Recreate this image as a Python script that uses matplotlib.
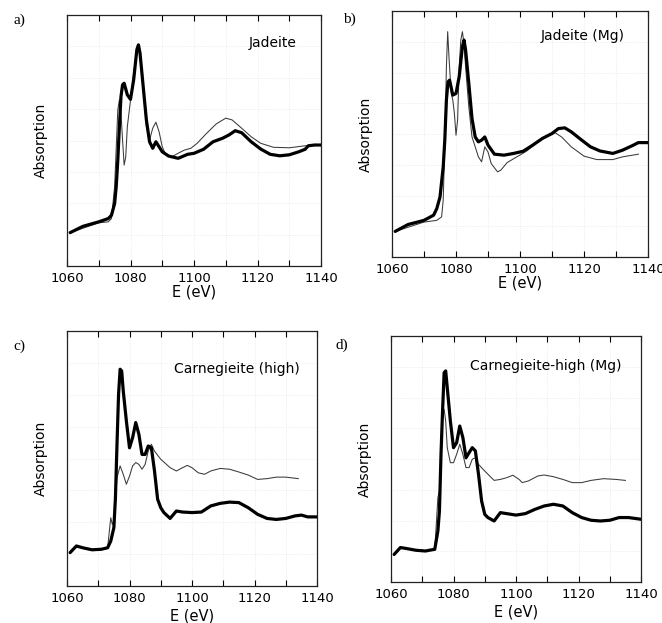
#!/usr/bin/env python3
# -*- coding: utf-8 -*-
"""
Na K-edge XANES: experiment (thick) vs calculation (thin), 4 panels
"""
import matplotlib
matplotlib.use('Agg')
import matplotlib.pyplot as plt
from matplotlib.ticker import MultipleLocator

W, H = 662, 623

# ---- a) Jadeite ----
a_exp_e = [1061, 1065, 1070, 1073, 1074, 1075, 1075.5, 1076, 1076.5, 1077, 1077.5, 1078, 1079, 1080,
           1081, 1082, 1082.5, 1083, 1084, 1085, 1086, 1087, 1088, 1089, 1090, 1092, 1095, 1098,
           1100, 1103, 1106, 1109, 1111, 1113, 1115, 1118, 1121, 1124, 1127, 1130, 1133, 1135,
           1136, 1138, 1140]
a_exp_y = [13.3, 15.8, 17.6, 18.9, 20.2, 24.9, 31.6, 42.2, 55.5, 67.5, 72.2, 72.8, 68.2, 66.4,
           74.2, 86.2, 88.1, 84.8, 71.5, 58.2, 49.5, 46.9, 49.5, 47.5, 45.5, 43.8, 42.9, 44.5,
           44.9, 46.5, 49.5, 50.9, 52.2, 53.9, 53.1, 49.5, 46.6, 44.5, 43.9, 44.3, 45.5, 46.5,
           47.9, 48.2, 48.2]
a_th_e = [1061, 1070, 1073, 1074, 1075, 1076, 1076.5, 1077, 1077.5, 1078, 1078.5, 1079, 1080,
          1081, 1082, 1082.5, 1083, 1084, 1085, 1086, 1087, 1088, 1089, 1090, 1091, 1093, 1095,
          1097, 1099, 1101, 1104, 1107, 1110, 1112, 1115, 1118, 1121, 1125, 1130, 1135, 1140]
a_th_y = [13.3, 17.2, 17.6, 18.9, 31.6, 62.2, 66.2, 60.9, 50.2, 40.2, 43.5, 55.5, 66.0,
          76.8, 86.2, 87.5, 83.5, 70.2, 55.5, 50.2, 54.9, 57.3, 53.5, 47.5, 44.6, 43.5, 44.9,
          46.2, 46.9, 48.9, 52.9, 56.6, 58.9, 58.2, 54.9, 51.5, 48.9, 47.3, 47.1, 47.9, 48.2]

# ---- b) Jadeite (Mg) ----
b_exp_e = [1061, 1065, 1070, 1073, 1074, 1075, 1076, 1076.5, 1077, 1077.5, 1078, 1079, 1080,
           1081, 1082, 1082.5, 1083, 1084, 1085, 1086, 1087, 1088, 1089, 1090, 1092, 1095, 1098,
           1101, 1104, 1107, 1110, 1112, 1114, 1116, 1119, 1122, 1125, 1129, 1132, 1135, 1137,
           1140]
b_exp_y = [10.4, 13.2, 14.9, 17.0, 19.7, 24.4, 36.6, 47.5, 63.8, 71.2, 71.9, 65.8, 66.5,
           73.3, 85.5, 88.2, 84.1, 70.6, 56.3, 48.8, 46.8, 47.5, 48.8, 45.5, 41.8, 41.4, 42.1,
           43.0, 45.5, 48.2, 50.2, 52.2, 52.5, 50.9, 47.8, 44.8, 43.1, 42.1, 43.4, 45.2, 46.5,
           46.5]
b_th_e = [1061, 1070, 1074, 1075.5, 1076, 1076.5, 1077, 1077.4, 1077.8, 1078.5, 1079, 1079.5,
          1080, 1080.5, 1081, 1081.5, 1082, 1082.5, 1083, 1084, 1085, 1086, 1087, 1088, 1089,
          1090, 1091, 1093, 1094, 1096, 1099, 1102, 1105, 1108, 1111, 1113, 1116, 1120, 1124,
          1129, 1132, 1137]
b_th_y = [10.4, 14.2, 14.9, 16.3, 23.1, 46.1, 77.3, 91.6, 81.4, 66.5, 63.8, 58.3,
          49.5, 55.6, 77.3, 88.2, 91.6, 86.8, 77.3, 61.1, 48.8, 44.8, 40.7, 38.7, 44.8,
          42.7, 38.0, 34.6, 35.3, 38.4, 40.7, 43.0, 46.1, 48.8, 50.5, 48.8, 44.8, 41.0, 39.6,
          39.6, 40.7, 41.8]

# ---- c) Carnegieite (high) ----
c_exp_e = [1061, 1063, 1065, 1068, 1071, 1073, 1074, 1075, 1075.5, 1076, 1076.5, 1077, 1077.5,
           1078, 1079, 1080, 1081, 1082, 1083, 1084, 1085, 1086, 1087, 1088, 1089, 1090, 1091,
           1093, 1095, 1097, 1100, 1103, 1106, 1109, 1112, 1115, 1118, 1121, 1124, 1127, 1130,
           1133, 1135, 1137, 1140]
c_exp_y = [13.1, 15.7, 15.0, 14.2, 14.4, 15.0, 17.6, 22.9, 34.6, 55.6, 75.2, 85.0, 84.3,
           76.5, 64.7, 54.2, 58.2, 64.1, 59.5, 51.6, 51.6, 54.9, 54.2, 45.1, 34.0, 30.7, 28.8,
           26.5, 29.4, 29.0, 28.8, 29.0, 31.4, 32.4, 32.9, 32.7, 30.7, 28.1, 26.5, 26.1, 26.5,
           27.5, 27.8, 27.1, 27.1]
c_th_e = [1073, 1074, 1074.5, 1075, 1076, 1077, 1078, 1079, 1080, 1081, 1082, 1083, 1084,
          1085, 1086, 1087, 1088, 1090, 1093, 1095, 1097, 1098.5, 1100, 1102, 1104, 1106, 1109,
          1112, 1115, 1118, 1121, 1124, 1127, 1130, 1134]
c_th_y = [15.0, 26.8, 24.2, 25.5, 42.5, 47.1, 43.8, 39.9, 43.1, 47.1, 48.4, 47.7, 45.8,
          47.7, 52.9, 55.6, 52.9, 49.7, 46.4, 45.1, 46.4, 47.3, 46.4, 44.4, 43.8, 45.1, 46.1,
          45.8, 44.7, 43.5, 41.8, 42.1, 42.7, 42.7, 42.1]

# ---- d) Carnegieite-high (Mg) ----
d_exp_e = [1061, 1063, 1065, 1068, 1071, 1074, 1075, 1075.5, 1076, 1076.5, 1077, 1077.5, 1078,
           1079, 1080, 1081, 1082, 1083, 1084, 1085, 1086, 1087, 1088, 1089, 1090, 1091, 1093,
           1095, 1097, 1100, 1103, 1106, 1109, 1112, 1115, 1118, 1121, 1124, 1127, 1130, 1133,
           1136, 1140]
d_exp_y = [11.2, 14.0, 13.6, 12.9, 12.6, 13.3, 20.7, 28.9, 51.9, 69.5, 85.1, 85.8, 79.0,
           65.4, 54.6, 56.6, 63.4, 58.7, 50.5, 52.6, 54.6, 53.3, 43.8, 32.9, 27.5, 26.2, 24.8,
           28.2, 27.8, 27.2, 27.8, 29.5, 30.9, 31.6, 30.9, 28.2, 26.2, 25.1, 24.8, 25.1, 26.2,
           26.2, 25.5]
d_th_e = [1074, 1075, 1075.5, 1076, 1076.5, 1077, 1077.5, 1078, 1079, 1080, 1081, 1082, 1083,
          1084, 1085, 1086, 1087, 1088, 1090, 1093, 1095, 1097, 1099, 1101, 1102, 1104, 1107,
          1109, 1112, 1115, 1118, 1121, 1124, 1128, 1132, 1135]
d_th_y = [12.9, 34.3, 37.0, 53.3, 66.8, 70.2, 65.4, 54.6, 48.5, 48.5, 51.9, 56.0, 51.9,
          46.5, 46.5, 49.9, 50.5, 47.8, 45.1, 41.3, 41.7, 42.4, 43.4, 41.7, 40.4, 41.1, 43.1,
          43.5, 42.8, 41.7, 40.4, 40.4, 41.3, 42.0, 41.7, 41.3]

# panel: tag, name, axes box in px (left, right, top, bottom), label pos, name pos (axes frac),
#        xlabel pad
PANELS = [
    ('a)', 'Jadeite', (67, 321, 15, 266), (13, 20), (0.905, 0.89), 0,
     a_exp_e, a_exp_y, a_th_e, a_th_y),
    ('b)', 'Jadeite (Mg)', (392, 648, 11, 257), (343, 19), (0.91, 0.90), 0,
     b_exp_e, b_exp_y, b_th_e, b_th_y),
    ('c)', 'Carnegieite (high)', (67, 317, 331, 586), (13, 346), (0.93, 0.85), 3,
     c_exp_e, c_exp_y, c_th_e, c_th_y),
    ('d)', 'Carnegieite-high (Mg)', (391, 641, 336, 582), (336, 345), (0.92, 0.88), 3,
     d_exp_e, d_exp_y, d_th_e, d_th_y),
]


def main():
    fig = plt.figure(figsize=(W / 100, H / 100), dpi=100, facecolor='white')
    sans = ['DejaVu Sans']
    serif = ['Liberation Serif', 'DejaVu Serif']

    for tag, name, (l, r, t, b), (tx, ty), (nx, ny), xpad, ee, ey, te, ty_ in PANELS:
        ax = fig.add_axes([l / W, (H - b) / H, (r - l) / W, (b - t) / H])
        ax.set_xlim(1060, 1140)
        ax.set_ylim(0, 100)

        # faint dotted background grid
        ax.xaxis.set_major_locator(MultipleLocator(20))
        ax.xaxis.set_minor_locator(MultipleLocator(10))
        ax.grid(True, which='both', axis='x', color='#e6e6e6', ls=':', lw=0.6)
        ax.set_yticks([12.5 * k for k in range(1, 8)])
        ax.grid(True, axis='y', color='#e6e6e6', ls=':', lw=0.6)
        ax.set_axisbelow(True)

        ax.plot(te, ty_, color='#3a3a3a', lw=0.75, zorder=3)
        ax.plot(ee, ey, color='black', lw=2.3, solid_capstyle='round',
                solid_joinstyle='round', zorder=4)

        ax.tick_params(axis='x', which='both', direction='in', length=4, width=0.8,
                       top=True, labelsize=9.5, pad=4)
        ax.tick_params(axis='y', which='both', left=False, labelleft=False)
        for sp in ax.spines.values():
            sp.set_linewidth(0.9)
            sp.set_color('#222222')
        for lab in ax.get_xticklabels():
            lab.set_family(sans)

        ax.set_xlabel('E (eV)', fontsize=10.5, family=sans, labelpad=xpad)
        ax.set_ylabel('Absorption', fontsize=10, family=sans, labelpad=14)
        ax.text(nx, ny, name, transform=ax.transAxes, ha='right', va='center',
                fontsize=10, family=sans)

        fig.text(tx / W, 1 - ty / H, tag, ha='left', va='center',
                 fontsize=11, family=serif)

    fig.savefig('out.png', dpi=100, facecolor='white')
    plt.close(fig)


if __name__ == '__main__':
    main()
